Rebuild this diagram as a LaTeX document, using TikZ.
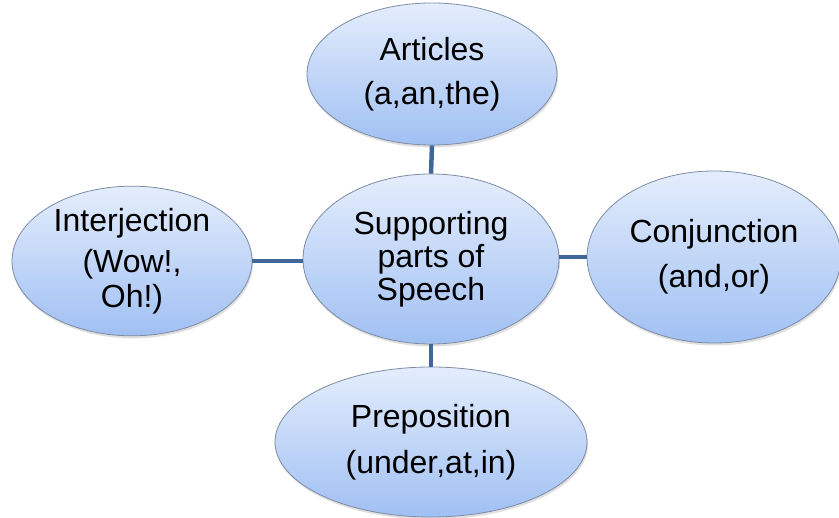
\documentclass[tikz,border=0pt]{standalone}
\usepackage{fontspec}
\setmainfont{Liberation Sans}
\usetikzlibrary{shapes.geometric,shadows}
\definecolor{topc}{HTML}{E4EDFC}
\definecolor{botc}{HTML}{A0C0F3}
\definecolor{rimc}{HTML}{7D8CA3}
\definecolor{linkc}{HTML}{40669A}
\tikzset{
  bubble/.style={ellipse, inner sep=0pt, draw=rimc, line width=0.8pt,
    top color=topc, bottom color=botc, align=center,
    font=\fontsize{32}{35}\selectfont,
    drop shadow={opacity=0.25, shadow xshift=1pt, shadow yshift=-2.5pt}},
  link/.style={draw=linkc, line width=4.5pt}
}
\begin{document}
\begin{tikzpicture}[x=1pt,y=-1pt]
\useasboundingbox (0,0) rectangle (839,518);
\node[bubble, minimum width=250pt, minimum height=142pt] (art) at (432,74) {Articles\\[9pt](a,an,the)};
\node[bubble, minimum width=256pt, minimum height=170pt] (sup) at (431,259) {Supporting\\[-2pt]parts of\\[-2pt]Speech};
\node[bubble, minimum width=240pt, minimum height=138pt] (int) at (132,261) {Interjection\\[6pt](Wow!,\\Oh!)};
\node[bubble, minimum width=254pt, minimum height=172pt] (con) at (714,257) {Conjunction\\[10pt](and,or)};
\node[bubble, minimum width=312pt, minimum height=150pt] (pre) at (431,442) {Preposition\\[11pt](under,at,in)};
\draw[link] (sup.north) -- (art.south);
\draw[link] (sup.south) -- (pre.north);
\draw[link] (int.east) -- (int.east -| sup.west);
\draw[link] (con.west) -- (con.west -| sup.east);
\end{tikzpicture}
\end{document}
